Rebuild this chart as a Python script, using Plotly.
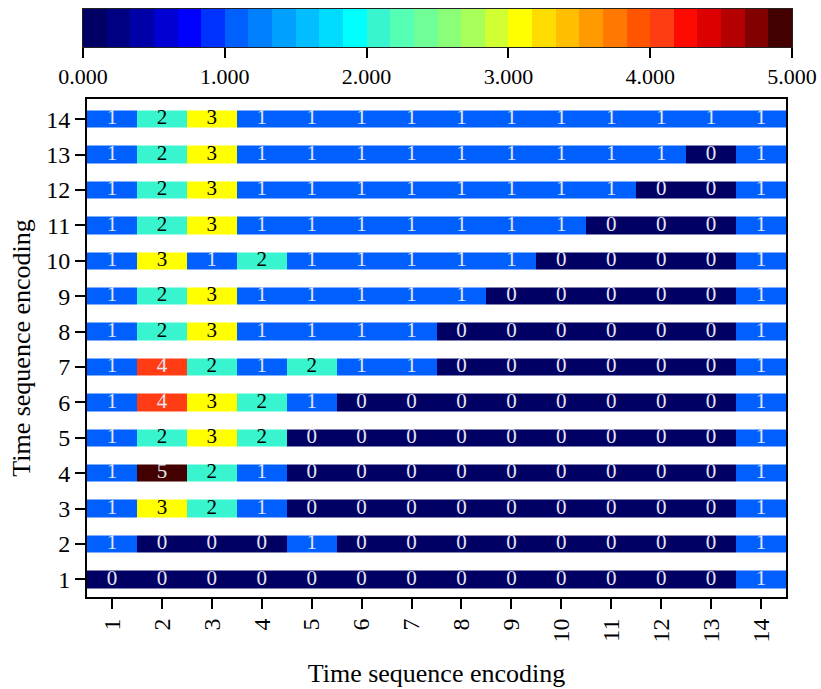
import plotly.graph_objects as go

# Data: rows are y = 1..14 (bottom to top), columns x = 1..14
x_labels = list(range(1, 15))
y_labels = list(range(1, 15))

row_1 = [0, 0, 0, 0, 0, 0, 0, 0, 0, 0, 0, 0, 0, 1]
row_2 = [1, 0, 0, 0, 1, 0, 0, 0, 0, 0, 0, 0, 0, 1]
row_3 = [1, 3, 2, 1, 0, 0, 0, 0, 0, 0, 0, 0, 0, 1]
row_4 = [1, 5, 2, 1, 0, 0, 0, 0, 0, 0, 0, 0, 0, 1]
row_5 = [1, 2, 3, 2, 0, 0, 0, 0, 0, 0, 0, 0, 0, 1]
row_6 = [1, 4, 3, 2, 1, 0, 0, 0, 0, 0, 0, 0, 0, 1]
row_7 = [1, 4, 2, 1, 2, 1, 1, 0, 0, 0, 0, 0, 0, 1]
row_8 = [1, 2, 3, 1, 1, 1, 1, 0, 0, 0, 0, 0, 0, 1]
row_9 = [1, 2, 3, 1, 1, 1, 1, 1, 0, 0, 0, 0, 0, 1]
row_10 = [1, 3, 1, 2, 1, 1, 1, 1, 1, 0, 0, 0, 0, 1]
row_11 = [1, 2, 3, 1, 1, 1, 1, 1, 1, 1, 0, 0, 0, 1]
row_12 = [1, 2, 3, 1, 1, 1, 1, 1, 1, 1, 1, 0, 0, 1]
row_13 = [1, 2, 3, 1, 1, 1, 1, 1, 1, 1, 1, 1, 0, 1]
row_14 = [1, 2, 3, 1, 1, 1, 1, 1, 1, 1, 1, 1, 1, 1]

z = [row_1, row_2, row_3, row_4, row_5, row_6, row_7,
     row_8, row_9, row_10, row_11, row_12, row_13, row_14]

cbar_ticks = [0, 1, 2, 3, 4, 5]
cbar_ticktext = ["0.000", "1.000", "2.000", "3.000", "4.000", "5.000"]
cbar_min, cbar_max = 0.0, 5.0

# 30-level jet-like palette
palette = [
    "#000064", "#000082", "#0000A8", "#0000D2", "#0000FF", "#0032FF",
    "#0060FF", "#0080FF", "#00A0FF", "#00BEFF", "#00DCFF", "#00FFFF",
    "#38F5CF", "#55FFB4", "#70FF96", "#8CFF78", "#A8FF5A", "#D2FF32",
    "#FFFF00", "#FFDC00", "#FFBE00", "#FF9B00", "#FF7800", "#FF5500",
    "#FF3C14", "#FF0A00", "#DC0000", "#B40000", "#820000", "#420000",
]
n = len(palette)
colorscale = []
for k, c in enumerate(palette):
    colorscale.append([k / n, c])
    colorscale.append([(k + 1) / n, c])

FONT = "Liberation Serif"

fig = go.Figure()

# main heatmap
fig.add_trace(go.Heatmap(
    x=x_labels, y=y_labels, z=z,
    zmin=-0.003, zmax=5.0005,
    colorscale=colorscale, showscale=False,
    ygap=18,
    hoverinfo="skip",
    xaxis="x", yaxis="y",
))

# cell labels
tx, ty, tt, tc = [], [], [], []
for j, row in enumerate(z):
    for i, v in enumerate(row):
        tx.append(x_labels[i])
        ty.append(y_labels[j])
        tt.append(str(v))
        tc.append("black" if v in (2, 3) else "#E6E6F2")

fig.add_trace(go.Scatter(
    x=tx, y=ty, text=tt, mode="text",
    textfont=dict(family=FONT, size=21, color=tc),
    hoverinfo="skip", showlegend=False,
    xaxis="x", yaxis="y",
))

# colour bar drawn as a one-row heatmap on its own axes
step = (cbar_max - cbar_min) / n
bar_edges = [cbar_min + k * step for k in range(n + 1)]
bar_levels = [[k for k in range(n)]]
fig.add_trace(go.Heatmap(
    x=bar_edges, y=[0, 1], z=bar_levels,
    zmin=-0.5, zmax=n - 0.5,
    colorscale=colorscale, showscale=False,
    hoverinfo="skip",
    xaxis="x2", yaxis="y2",
))

axis_common = dict(
    showgrid=False, zeroline=False, automargin=False,
    showline=True, mirror=True, linecolor="black", linewidth=2,
    ticks="outside", ticklen=10, tickwidth=1.5, tickcolor="black",
    tickfont=dict(family=FONT, size=24, color="black"),
    tickmode="array",
)

W, H = 821, 689
ml, mr, mt, mb = 83, W - 792, 9, 92
pw = W - ml - mr
ph = H - mt - mb
px_l, px_r = 87, 786      # main plot frame (pixels)
px_top = 99               # main plot top (pixels)
cb_bottom = 47            # colour bar bottom (pixels)

fig.update_layout(
    width=W, height=H,
    margin=dict(l=ml, r=mr, t=mt, b=mb),
    paper_bgcolor="white", plot_bgcolor="white",
    showlegend=False,
    xaxis=dict(
        **axis_common,
        domain=[(px_l - ml) / pw, (px_r - ml) / pw],
        anchor="y",
        tickvals=x_labels, ticktext=[str(v) for v in x_labels],
        tickangle=-90,
        range=[0.5, 14.5],
        title=dict(text="Time sequence encoding",
                   font=dict(family=FONT, size=26, color="black"), standoff=22),
    ),
    yaxis=dict(
        **axis_common,
        domain=[0, (H - mb - px_top) / ph],
        anchor="x",
        tickvals=y_labels, ticktext=[str(v) for v in y_labels],
        range=[0.5, 14.57],
        title=dict(text="Time sequence encoding",
                   font=dict(family=FONT, size=26, color="black"), standoff=8),
    ),
    xaxis2=dict(
        domain=[0, 1], anchor="y2", automargin=False,
        range=[cbar_min, cbar_max],
        showgrid=False, zeroline=False,
        showline=True, mirror=True, linecolor="#222222", linewidth=1,
        ticks="outside", ticklen=10, tickwidth=1.5, tickcolor="black",
        tickmode="array", tickvals=cbar_ticks, ticktext=cbar_ticktext,
        tickfont=dict(family=FONT, size=22, color="black"),
        side="bottom",
    ),
    yaxis2=dict(
        domain=[(H - mb - cb_bottom) / ph, 1], anchor="x2", automargin=False,
        range=[0, 1],
        showgrid=False, zeroline=False,
        showline=True, mirror=True, linecolor="#222222", linewidth=1,
        showticklabels=False, ticks="",
    ),
)

fig.write_html("out.html")
